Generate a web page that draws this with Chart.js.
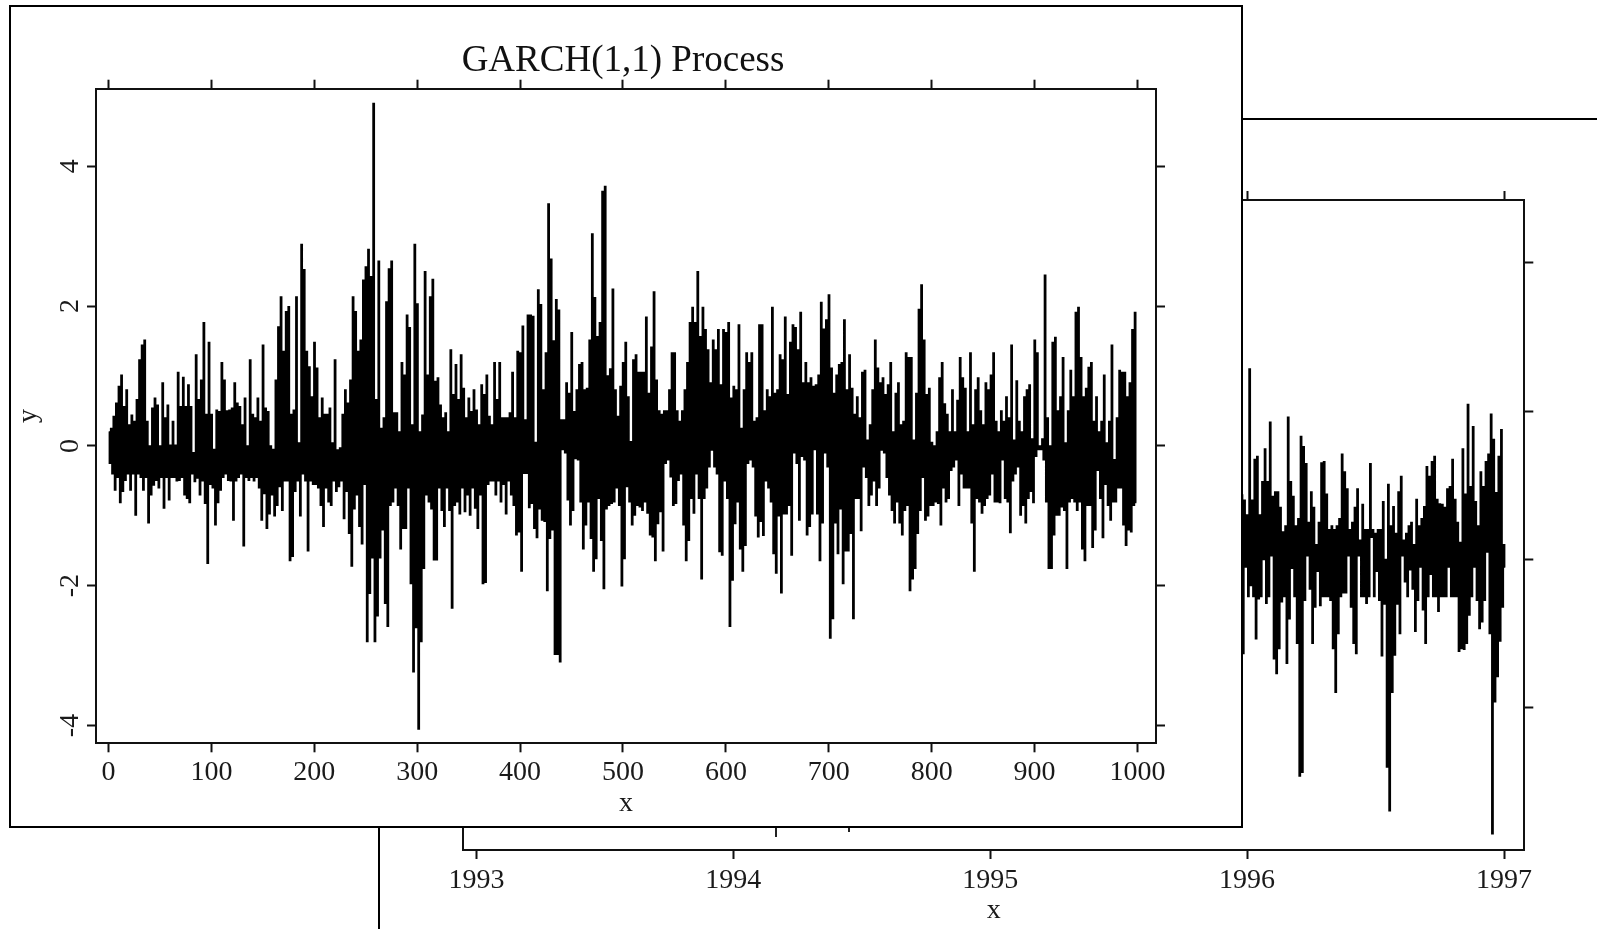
<!DOCTYPE html>
<html>
<head>
<meta charset="utf-8">
<title>GARCH(1,1) Process</title>
<script src="https://cdn.jsdelivr.net/npm/chart.js@4"></script>
<style>
  html, body { margin: 0; padding: 0; background: #fff; overflow: hidden; }
  body { position: relative; width: 1597px; height: 929px; }
  canvas { display: block; }
  #backWindow { position: absolute; left: 378px; top: 118px; width: 1219px; height: 811px; box-sizing: border-box;
    border-left: 2px solid #000; border-top: 2px solid #000; background: #fff; }
  #frontWindow { position: absolute; left: 9px; top: 5px; width: 1234px; height: 823px; box-sizing: border-box;
    border: 2px solid #000; background: #fff; }
  .stub { position: absolute; width: 2px; background: #222; top: 826px; }
</style>
</head>
<body>
<div id="backWindow"><canvas id="backChart" width="1217" height="809"></canvas></div>
<div class="stub" style="left:775px;height:11px"></div>
<div class="stub" style="left:848px;height:6px"></div>
<div id="frontWindow"><canvas id="frontChart" width="1224" height="819"></canvas></div>
<script>
const frontXTicks = [0, 100, 200, 300, 400, 500, 600, 700, 800, 900, 1000];
const frontYTicks = [-4, -2, 0, 2, 4];
const backXTicks = [1993, 1994, 1995, 1996, 1997];
const backYTicks = [-2, 0, 2, 4];

// GARCH series: top and bottom of each stick, 2.5 x units apart
const garchTop = [
  .2,.25,.42,.61,.85,1.01,.56,.8,.3,.44,.35,.66,1.23,1.44,1.51,.35,0,.54,.68,.58,
  0,.9,.4,.58,.01,.35,.01,1.05,.56,.98,.56,.87,.56,-.1,1.3,.66,.94,1.76,.45,1.48,
  .45,-.05,.51,.49,1.19,.94,.5,.51,.54,.9,.61,.56,.3,.68,0,1.23,.45,.4,.68,.35,
  1.44,.54,.49,0,-.05,.94,1.7,2.13,1.35,1.92,1.99,.45,.51,2.13,.04,2.88,2.52,1.35,1.13,.7,
  1.48,1.11,.4,.68,.45,.45,.54,.04,1.23,-.06,-.03,.45,.8,.61,.94,2.13,1.92,1.35,1.51,2.37,
  2.56,2.81,2.42,4.9,.66,2.64,.25,.4,2.06,2.53,2.64,.47,.47,.2,1.19,1.01,1.87,1.69,.3,2.88,
  2.03,.2,.44,2.49,1.01,2.13,2.38,.92,.97,.58,.4,.47,.2,1.37,.73,1.16,.66,1.3,.82,.4,
  .68,.49,.8,.51,.3,.87,.73,1.01,.42,.3,1.19,.66,1.19,.4,.4,.4,.47,1.05,.4,1.35,
  1.33,1.71,.37,1.87,1.87,1.85,.05,2.23,2.02,.8,1.33,3.46,2.67,1.5,2.09,1.94,.37,.37,.9,.75,
  1.62,.49,.8,1.16,1.19,.8,.82,1.51,3.03,2.12,1.56,1.76,3.64,3.71,1,1.1,2.24,.8,.42,.85,
  1.19,1.48,.7,.06,1.23,1.3,1.05,1.05,1.05,1.84,.75,1.41,2.2,.94,.5,.45,.5,.5,.8,1.33,
  1.33,.5,.35,.5,.8,1.19,1.76,1.98,1.76,2.49,1.56,1.98,1.66,1.37,.9,1.51,1.37,1.66,.87,1.66,
  1.62,1.76,.68,.85,.8,1.73,.25,.8,1.33,1.19,1.33,.35,.4,1.73,1.73,.5,.8,.7,1.98,.75,
  .8,1.3,1.23,1.84,.73,1.48,1.73,1.69,1.37,1.91,.9,1.19,.9,.97,.85,.87,1.01,2.05,1.67,1.8,
  2.16,1.11,.75,1.01,1.16,1.19,1.8,.8,1.3,.82,.45,.7,.4,1.05,1.08,.08,.3,.8,1.51,1.11,
  .9,.97,.73,.87,1.19,.2,.75,.9,.3,.35,1.33,1.26,1.26,.08,.75,1.95,2.3,1.51,.73,.82,
  .05,0,.2,.97,1.19,.6,.45,.2,.8,.2,.65,1.26,.97,.82,.2,1.33,.3,.8,.97,.5,
  .3,.9,.8,1.01,1.33,.35,.2,.5,.35,.7,.4,1.44,.08,.93,.35,.2,.7,.8,.87,.1,
  1.51,1.33,0,.1,2.44,.4,0,1.48,1.55,.5,.7,1.26,.04,.5,1.08,.7,1.91,1.98,1.26,.7,
  .82,1.12,1.19,.35,.7,.2,.35,1.01,.04,.35,1.44,-.2,.4,1.08,1.05,1.05,.7,.9,1.66,1.91
];
const garchBottom = [
  -.25,-.4,-.63,-.45,-.81,-.65,-.49,-.4,-.63,-.4,-.99,-.4,-.45,-.63,-.45,-1.1,-.7,-.56,-.49,-.6,
  -.45,-.89,-.45,-.77,-.45,-.45,-.5,-.49,-.45,-.7,-.75,-.81,-.4,-.51,-.46,-.7,-.5,-.82,-1.68,-.55,
  -.6,-1.13,-.81,-.63,-.45,-.4,-.49,-.5,-1.06,-.5,-.45,-.4,-1.43,-.45,-.49,-.45,-.5,-.45,-.6,-1.06,
  -.68,-1.18,-.97,-.7,-1,-.85,-.58,-.92,-.5,-.5,-1.64,-1.58,-.65,-.5,-1,-.4,-.5,-1.5,-.5,-.55,
  -.55,-.6,-.85,-1.15,-.6,-.8,-.85,-.5,-.65,-.58,-.5,-1.04,-.65,-1.25,-1.72,-.9,-.7,-1.15,-1.4,-.55,
  -2.8,-2.11,-1.6,-2.8,-2.43,-1.6,-1.2,-2.25,-2.58,-.85,-.8,-.6,-.85,-1.47,-1.18,-1.18,-.6,-1.97,-3.23,-2.6,
  -4.05,-2.8,-1.75,-.7,-.8,-.9,-1.63,-1.63,-.6,-.92,-1.15,-.6,-.92,-2.32,-.85,-.8,-.97,-.6,-.94,-.7,
  -.99,-.6,-.89,-1.18,-.7,-1.97,-1.95,-.55,-.5,-.5,-.7,-.5,-.8,-.55,-.97,-.5,-.7,-.85,-1.27,-1.23,
  -1.79,-.39,-.39,-.88,-.82,-1.18,-1.31,-.9,-1.06,-1.08,-2.07,-1.32,-1.2,-2.98,-2.98,-3.09,-.05,-.1,-.77,-1.13,
  -.92,-.18,-.2,-.8,-1.47,-1.13,-.8,-1.32,-1.79,-1.61,-.75,-1.35,-2.04,-.9,-.85,-.82,-.8,-.6,-.85,-2,
  -1.61,-.58,-.8,-1.13,-.99,-.85,-.87,-.92,-.8,-.96,-1.27,-1.3,-1.64,-1.11,-.94,-1.5,-.25,-.2,-.44,-.85,
  -.82,-.49,-.4,-1.13,-1.64,-1.35,-.75,-.96,-.4,-.75,-1.9,-.75,-.6,-.3,-.06,-.3,-.4,-1.51,-1.56,-.5,
  -.75,-2.58,-1.92,-1.11,-.8,-1.47,-1.79,-1.42,-.25,-.2,-.3,-1,-1.3,-1.08,-1.28,-.5,-.6,-.8,-1.54,-1.82,
  -1,-2.1,-.97,-.97,-.85,-1.56,-.1,-.25,-1.06,-.15,-.2,-1.27,-1.15,-.97,-.05,-.97,-1.64,-1.1,-.1,-.3,
  -2.75,-2.47,-1.1,-1.54,-.9,-1.97,-1.5,-1.5,-1.25,-2.47,-.75,-.75,-1.21,-.3,-.45,-.85,-.7,-.5,-.85,-.6,
  -.06,-.1,-.45,-.7,-.92,-1.1,-.8,-1.1,-1.27,-.92,-.85,-2.07,-1.9,-1.75,-1.25,-.92,-.45,-1.06,-1,-.85,
  -.85,-.8,-.82,-1.13,-.6,-.8,-.75,-.35,-.3,-.2,-.85,-.4,-.6,-.6,-.6,-1.1,-1.79,-.75,-.8,-.96,
  -.85,-.75,-.7,-.4,-.8,-.8,-.81,-.2,-.75,-.8,-1.24,-.5,-.4,-.3,-.99,-.85,-1.1,-.75,-.65,-.81,
  -.15,-.05,-.05,-.2,-.8,-1.75,-1.75,-1.27,-.99,-.99,-.87,-.92,-1.75,-.8,-.75,-.8,-.92,-.8,-1.47,-1.64,
  -.85,-.85,-1.45,-1.2,-.35,-.75,-1.31,-.55,-.85,-1.06,-.8,-.8,-.6,-.6,-1.13,-1.42,-1.2,-1.23,-.85,-.81
];

// back chart, only the part not hidden by the front window (from 1995.98, .01 year apart)
const backTop = [
  .87,.8,.6,2.57,.8,1.35,1.39,.6,1.05,1.49,1.05,1.85,.85,.91,.91,.7,.37,.45,1.92,1.05,
  .85,.45,.55,1.66,1.52,1.29,.5,.91,.7,.2,.5,1.3,1.32,.88,.4,.45,.4,.45,.55,1.42,
  1.18,.95,.4,.5,.7,.95,.26,.74,.4,.4,1.29,.4,.35,.4,.4,.78,0,1.01,.45,.71,
  .35,.91,1.12,.26,.35,.45,.5,.2,.81,.45,.55,.71,1.25,1.12,1.32,1.39,.81,.75,.74,.7,
  .95,.98,1.35,.81,.5,.23,1.49,.88,2.09,.98,1.79,.78,.45,1.18,.98,1.32,1.42,1.96,1.62,.9,
  1.39,1.75,.2
];
const backBottom = [
  -1.27,-.1,-.5,-.35,-.5,-1.07,-.53,-.5,0,-.59,-.5,.05,-1.34,-1.54,-1.2,-.57,-.5,-1.4,-.8,-.12,
  -.5,-1.13,-2.92,-2.87,-.55,.05,-.4,-1.13,-.64,-.16,-.62,-.5,-.5,-.5,-.55,-1.2,-1.79,-1,-.5,-.45,
  -.45,.05,-.64,-1.13,-1.27,.05,-.5,-.5,-.59,-.5,.3,-.5,-.16,-.55,-1.3,-.6,-2.8,-3.39,-1.79,-1.29,
  -.6,-1,.05,-.3,-.5,-.14,-.4,-.97,-.55,-.1,-.68,-1.13,-.5,-.2,-.5,-.5,-.7,-.5,-.5,-.5,
  -.1,-.5,-.5,-.5,-1.24,-1.2,-1.21,-1.13,-.75,-.5,-.1,-.55,-.93,-.84,-.55,.1,-1,-3.7,-1.92,-1.58,
  -1.1,-.64,-.1
];

const serif = "'Liberation Serif', 'Times New Roman', serif";
const inkColor = "#1a1a1a";

// each stick gives two points, the stepped line then draws it as a square column
function sticks(tops, bottoms, start, step) {
  let points = [];
  tops.forEach((top, i) => {
    points.push({ x: start + i * step, y: top });
    points.push({ x: start + i * step + step / 2, y: bottoms[i] });
  });
  return points;
}

function setTicks(list) {
  return (scale) => {
    scale.ticks = list.map((v) => ({ value: v }));
  };
}

function fixSize(prop, size) {
  return (scale) => {
    scale[prop] = size;
  };
}

function axis(position, min, max, tickList, size, extra) {
  let horizontal = position == "top" || position == "bottom";
  let options = {
    type: "linear",
    position: position,
    min: min,
    max: max,
    afterBuildTicks: setTicks(tickList),
    afterFit: fixSize(horizontal ? "height" : "width", size),
    border: { color: "#111", width: 2 },
    grid: { drawOnChartArea: false, drawTicks: true, tickLength: 9, tickColor: "#111", tickWidth: 2 },
    ticks: {
      display: false,
      autoSkip: false,
      color: inkColor,
      font: { family: serif, size: 28 },
      callback: (v) => String(v),
    },
  };
  if (extra && extra.labels) {
    options.ticks.display = true;
    options.ticks.padding = extra.padding;
    if (!horizontal) {
      options.ticks.minRotation = 90;
      options.ticks.maxRotation = 90;
      options.ticks.crossAlign = "center";
    } else {
      options.ticks.maxRotation = 0;
    }
  }
  if (extra && extra.title) {
    options.title = {
      display: true,
      text: extra.title,
      color: inkColor,
      font: { family: serif, size: 28 },
      padding: extra.titlePadding,
    };
  }
  return options;
}

function lineData(points) {
  return {
    datasets: [
      {
        data: points,
        borderColor: "#000",
        borderWidth: 1.5,
        pointRadius: 0,
        stepped: "middle",
        fill: false,
        borderCapStyle: "butt",
        borderJoinStyle: "miter",
      },
    ],
  };
}

new Chart(document.getElementById("backChart").getContext("2d"), {
  type: "line",
  data: lineData(sticks(backTop, backBottom, 1995.98, 0.01)),
  options: {
    responsive: false,
    animation: false,
    events: [],
    layout: { padding: 0 },
    plugins: { legend: { display: false }, tooltip: { enabled: false } },
    scales: {
      x: axis("bottom", 1992.949, 1997.079, backXTicks, 79, {
        labels: true,
        padding: 5,
        title: "x",
        titlePadding: { top: 0, bottom: 2 },
      }),
      xTop: axis("top", 1992.949, 1997.079, backXTicks, 80),
      y: axis("left", -3.92, 4.85, backYTicks, 83.3),
      yRight: axis("right", -3.92, 4.85, backYTicks, 72.7),
    },
  },
});

new Chart(document.getElementById("frontChart").getContext("2d"), {
  type: "line",
  data: lineData(sticks(garchTop, garchBottom, 0.2, 2.5)),
  options: {
    responsive: false,
    animation: false,
    events: [],
    layout: { padding: 0 },
    plugins: {
      legend: { display: false },
      tooltip: { enabled: false },
      title: {
        display: true,
        text: "GARCH(1,1) Process",
        color: "#111",
        font: { family: serif, size: 37, weight: "normal", lineHeight: 1.2 },
        padding: { top: 32.3, bottom: 0 },
      },
    },
    scales: {
      x: axis("bottom", -12.15, 1018, frontXTicks, 82.7, {
        labels: true,
        padding: 4,
        title: "x",
        titlePadding: { top: 0, bottom: 6 },
      }),
      xTop: axis("top", -12.15, 1018, frontXTicks, 5),
      y: axis("left", -4.255, 5.11, frontYTicks, 85, {
        labels: true,
        padding: 5,
        title: "y",
        titlePadding: { top: 1, bottom: 0 },
      }),
      yRight: axis("right", -4.255, 5.11, frontYTicks, 79),
    },
  },
});
</script>
</body>
</html>
